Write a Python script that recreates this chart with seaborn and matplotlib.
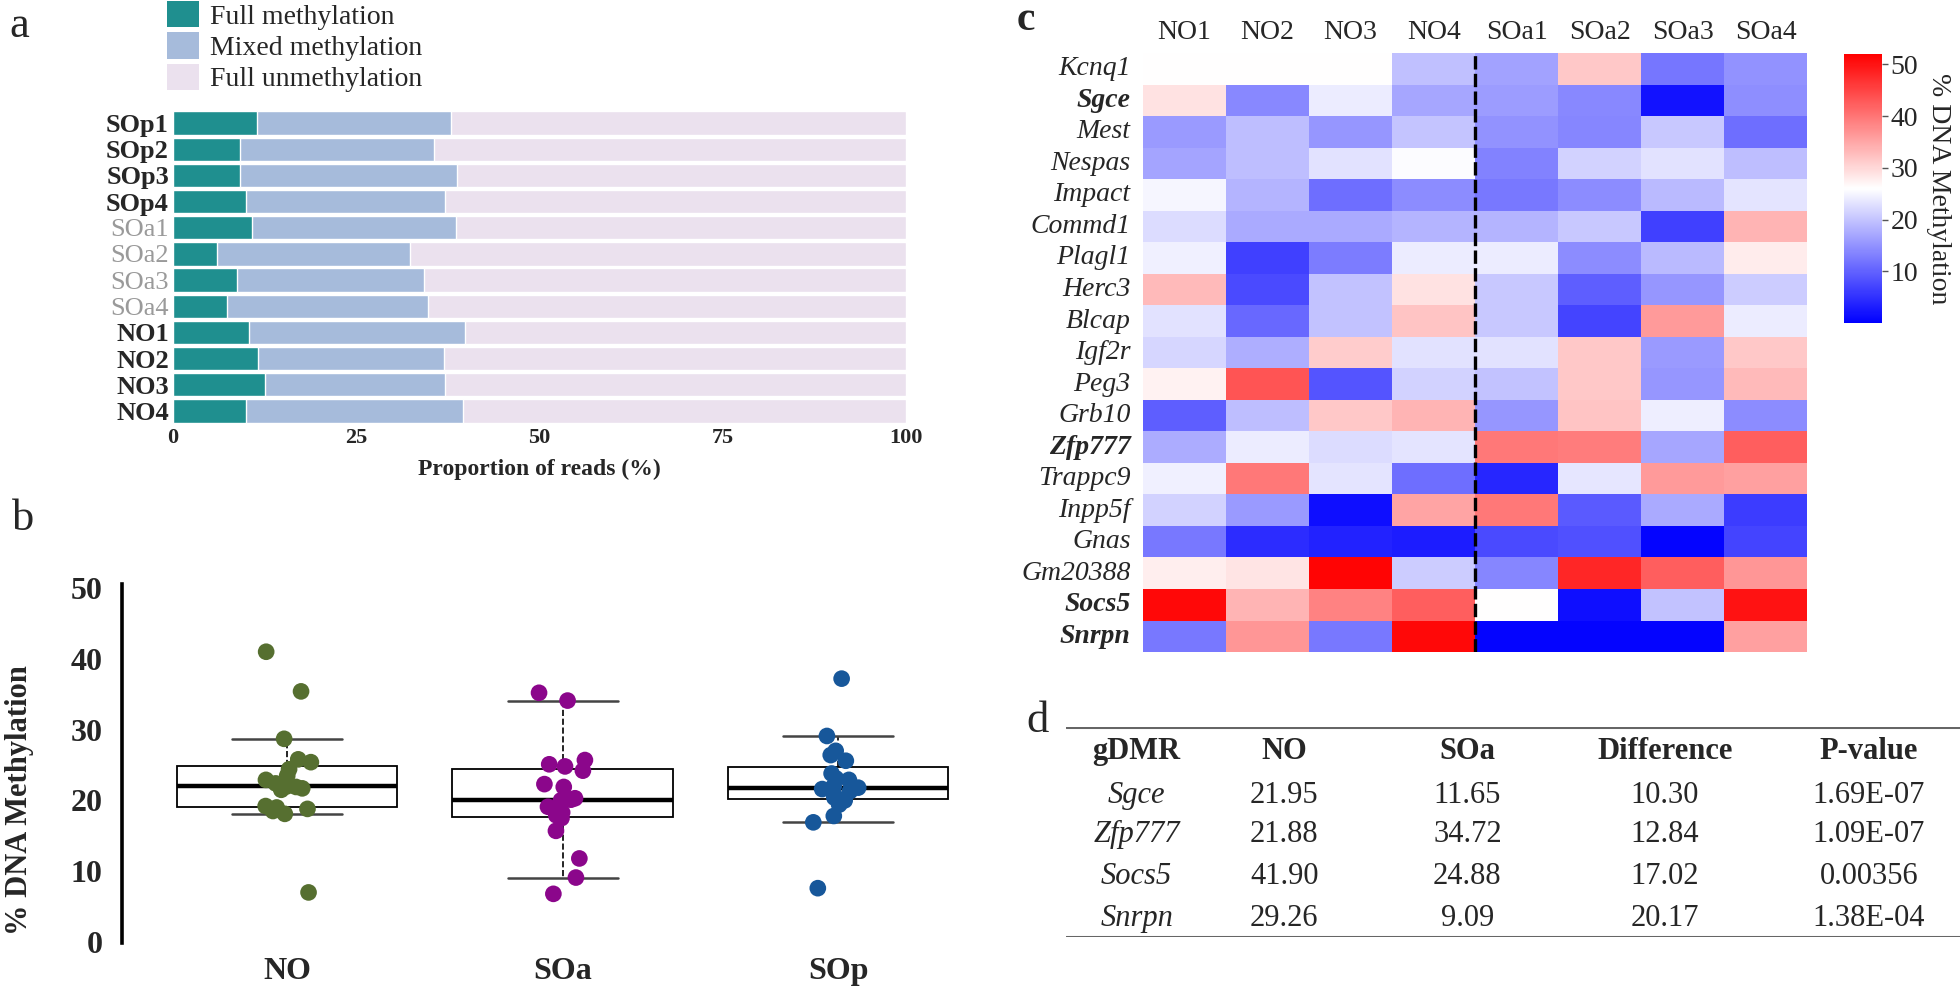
import numpy as np
import pandas as pd
import seaborn as sns
import matplotlib.pyplot as plt
from matplotlib.patches import Patch

sns.set_style("white")
plt.rcParams['font.family'] = ['Liberation Serif', 'DejaVu Serif']
np.random.seed(7)

# ---------------- a: proportion of reads ----------------
samples = ["SOp1", "SOp2", "SOp3", "SOp4", "SOa1", "SOa2", "SOa3", "SOa4",
           "NO1", "NO2", "NO3", "NO4"]
full_meth = [11.4, 9.1, 9.1, 10.0, 10.8, 6.0, 8.7, 7.4, 10.4, 11.6, 12.5, 10.0]
mixed_meth = [26.5, 26.5, 29.7, 27.1, 27.8, 26.3, 25.5, 27.4, 29.4, 25.3, 24.6, 29.6]
full_unmeth = [100 - f - m for f, m in zip(full_meth, mixed_meth)]
cat_names = ["Full methylation", "Mixed methylation", "Full unmethylation"]
cat_colors = ["#1f8f8f", "#a6bbdb", "#ebe1ee"]

# ---------------- b: % methylation per gDMR ----------------
groups = ["NO", "SOa", "SOp"]
no_pts = [41.0, 35.4, 28.7, 25.8, 25.4, 24.4, 23.5, 22.9, 22.4, 22.0,
          21.9, 21.7, 21.5, 19.2, 19.0, 18.8, 18.5, 18.1, 7.0]
soa_pts = [35.2, 34.1, 25.7, 25.1, 24.8, 24.2, 22.3, 21.9, 20.3, 20.1,
           20.0, 19.1, 18.3, 17.9, 17.5, 15.7, 11.8, 9.1, 6.8]
sop_pts = [37.2, 29.1, 27.0, 26.4, 25.6, 23.8, 23.1, 22.9, 22.0, 21.8,
           21.6, 21.3, 20.8, 20.4, 20.0, 19.4, 17.8, 16.9, 7.6]
group_colors = {"NO": "#566f30", "SOa": "#8b068b", "SOp": "#17579a"}

# ---------------- c: heatmap ----------------
heat_cols = ["NO1", "NO2", "NO3", "NO4", "SOa1", "SOa2", "SOa3", "SOa4"]
genes = ["Kcnq1", "Sgce", "Mest", "Nespas", "Impact", "Commd1", "Plagl1", "Herc3",
         "Blcap", "Igf2r", "Peg3", "Grb10", "Zfp777", "Trappc9", "Inpp5f", "Gnas",
         "Gm20388", "Socs5", "Snrpn"]
bold_genes = ["Sgce", "Zfp777", "Socs5", "Snrpn"]
heat_vals = [
    [26.0, 26.0, 26.0, 19.5, 16.5, 31.6, 12.0, 15.0],
    [29.0, 14.0, 24.0, 17.0, 16.0, 14.0, 2.0, 14.6],
    [15.8, 19.4, 15.3, 20.0, 15.0, 13.8, 20.4, 11.2],
    [16.8, 19.4, 23.0, 25.7, 13.3, 21.4, 23.0, 19.4],
    [25.0, 18.4, 11.2, 14.3, 12.2, 14.3, 18.9, 23.2],
    [22.4, 17.3, 17.3, 18.4, 18.4, 20.4, 6.6, 33.6],
    [24.5, 6.6, 12.7, 24.0, 24.0, 14.3, 18.9, 28.0],
    [33.1, 7.6, 19.9, 29.0, 20.4, 9.7, 15.3, 20.9],
    [23.0, 10.7, 19.9, 32.0, 20.4, 7.1, 36.2, 24.0],
    [21.9, 17.8, 31.1, 23.0, 23.0, 31.6, 15.8, 31.6],
    [27.3, 43.3, 8.7, 21.4, 19.9, 31.6, 15.3, 33.1],
    [9.7, 19.4, 31.6, 33.6, 15.3, 32.0, 24.3, 14.3],
    [17.5, 24.0, 22.4, 23.2, 39.8, 39.3, 17.0, 42.3],
    [24.5, 39.8, 23.2, 11.2, 4.0, 23.5, 36.2, 35.7],
    [21.4, 15.8, 1.5, 35.2, 39.8, 9.2, 17.3, 6.1],
    [12.2, 4.6, 3.6, 3.0, 7.6, 8.2, 0.5, 7.1],
    [27.7, 28.8, 51.5, 20.9, 13.8, 48.0, 42.3, 36.7],
    [51.0, 33.6, 38.7, 42.3, 26.0, 1.5, 19.9, 50.0],
    [12.2, 36.7, 12.2, 51.0, 0.5, 0.5, 0.5, 35.7],
]

# ---------------- d: table ----------------
tab_header = ["gDMR", "NO", "SOa", "Difference", "P-value"]
tab_genes = ["Sgce", "Zfp777", "Socs5", "Snrpn"]
tab_no = ["21.95", "21.88", "41.90", "29.26"]
tab_soa = ["11.65", "34.72", "24.88", "9.09"]
tab_diff = ["10.30", "12.84", "17.02", "20.17"]
tab_p = ["1.69E-07", "1.09E-07", "0.00356", "1.38E-04"]

fig = plt.figure(figsize=(19.6, 9.92), dpi=100)

# ===== panel a =====
axa = fig.add_axes([0.0883, 0.5726, 0.374, 0.3165])
df_a = pd.DataFrame({"sample": samples,
                     "full": full_meth,
                     "full_mixed": [f + m for f, m in zip(full_meth, mixed_meth)],
                     "total": [f + m + u for f, m, u in zip(full_meth, mixed_meth, full_unmeth)]})
for col, c in zip(["total", "full_mixed", "full"], cat_colors[::-1]):
    sns.barplot(data=df_a, y="sample", x=col, color=c, saturation=1, width=0.89,
                ax=axa, orient="h")
axa.set_xlim(0, 100)
axa.set_xticks([0, 25, 50, 75, 100])
axa.set_xlabel("Proportion of reads (%)", fontsize=17, fontweight="bold", labelpad=8)
axa.set_ylabel("")
axa.tick_params(axis="both", length=0, pad=3)
for lab in axa.get_xticklabels():
    lab.set_fontsize(16)
    lab.set_fontweight("bold")
for lab in axa.get_yticklabels():
    lab.set_fontsize(19)
    if lab.get_text().startswith("SOa"):
        lab.set_color("#9a9a9a")
    else:
        lab.set_fontweight("bold")
for s in axa.spines.values():
    s.set_visible(False)

handles = [Patch(facecolor=c, edgecolor="none") for c in cat_colors]
fig.legend(handles, cat_names, loc="upper left", bbox_to_anchor=(167 / 1960, 1 - 1 / 992),
           frameon=False, fontsize=20, handlelength=1.15, handleheight=1.08,
           labelspacing=0.1, handletextpad=0.4, borderpad=0, borderaxespad=0)

# ===== panel b =====
axb = fig.add_axes([0.0622, 0.0490, 0.4286, 0.3618])
df_b = pd.DataFrame({"group": ["NO"] * len(no_pts) + ["SOa"] * len(soa_pts) + ["SOp"] * len(sop_pts),
                     "meth": no_pts + soa_pts + sop_pts})
sns.boxplot(data=df_b, x="group", y="meth", order=groups, ax=axb, width=0.8,
            color="white", linecolor="black", linewidth=1.3, showfliers=False,
            medianprops=dict(color="black", linewidth=3.2),
            whiskerprops=dict(linestyle="--", linewidth=1.2),
            capprops=dict(color="#444444", linewidth=1.8))
sns.stripplot(data=df_b, x="group", y="meth", order=groups, hue="group",
              palette=group_colors, jitter=0.09, size=12, linewidth=0,
              legend=False, ax=axb, zorder=5)
axb.set_xlim(-0.6, 2.45)
axb.set_ylim(-0.2, 50.5)
axb.set_yticks([0, 10, 20, 30, 40, 50])
axb.set_xlabel("")
axb.set_ylabel("% DNA Methylation", fontsize=22, fontweight="bold")
axb.yaxis.set_label_coords(-0.105, 0.40)
axb.tick_params(axis="both", length=0)
axb.tick_params(axis="y", pad=14)
axb.tick_params(axis="x", pad=10)
for lab in axb.get_xticklabels() + axb.get_yticklabels():
    lab.set_fontsize(23)
    lab.set_fontweight("bold")
for side in ["top", "right", "bottom"]:
    axb.spines[side].set_visible(False)
axb.spines["left"].set_linewidth(2.6)
axb.spines["left"].set_color("black")

# ===== panel c =====
axc = fig.add_axes([0.5832, 0.3427, 0.3388, 0.6038])
cax = fig.add_axes([0.9408, 0.6744, 0.0194, 0.2712])
df_c = pd.DataFrame(heat_vals, index=genes, columns=heat_cols)
sns.heatmap(df_c, cmap="bwr", vmin=0, vmax=52, ax=axc, cbar_ax=cax,
            cbar_kws={"ticks": [10, 20, 30, 40, 50]})
axc.axvline(4, color="black", linewidth=2.4, linestyle=(0, (4, 1.3)))
axc.xaxis.tick_top()
axc.tick_params(axis="both", length=0)
axc.tick_params(axis="x", pad=6)
axc.tick_params(axis="y", pad=9)
for lab in axc.get_xticklabels():
    lab.set_fontsize(20)
    lab.set_rotation(0)
for lab in axc.get_yticklabels():
    lab.set_fontsize(20)
    lab.set_rotation(0)
    lab.set_fontstyle("italic")
    if lab.get_text() in bold_genes:
        lab.set_fontweight("bold")
axc.set_xlabel("")
axc.set_ylabel("")
cbar = axc.collections[0].colorbar
cbar.outline.set_visible(False)
cax.tick_params(labelsize=20, length=4, width=1, color="#555555", pad=2)
cbar.set_label("% DNA Methylation", rotation=270, fontsize=20, labelpad=24)

# ===== panel d =====
axd = fig.add_axes([0.5439, 0.05544, 0.4561, 0.2117])
axd.set_xlim(0, 1)
axd.set_ylim(0, 1)
axd.axis("off")
axd.axhline(1, color="#666666", linewidth=2.2)
axd.axhline(0, color="#666666", linewidth=2.2)
col_x = [0.079, 0.244, 0.449, 0.670, 0.898]
row_y = [0.881, 0.676, 0.486, 0.286, 0.090]
for x, h in zip(col_x, tab_header):
    axd.text(x, row_y[0], h, ha="center", va="center", fontsize=22, fontweight="bold")
for i in range(len(tab_genes)):
    y = row_y[i + 1]
    axd.text(col_x[0], y, tab_genes[i], ha="center", va="center", fontsize=22, fontstyle="italic")
    for x, v in zip(col_x[1:], [tab_no[i], tab_soa[i], tab_diff[i], tab_p[i]]):
        axd.text(x, y, v, ha="center", va="center", fontsize=22)

# panel letters
fig.text(0.005, 1 - 37 / 992, "a", fontsize=32, va="baseline")
fig.text(0.006, 1 - 530 / 992, "b", fontsize=32, va="baseline")
fig.text(1017 / 1960, 1 - 30 / 992, "c", fontsize=30, fontweight="bold", va="baseline")
fig.text(1026 / 1960, 1 - 732 / 992, "d", fontsize=32, va="baseline")

fig.savefig("out.png", dpi=100)
